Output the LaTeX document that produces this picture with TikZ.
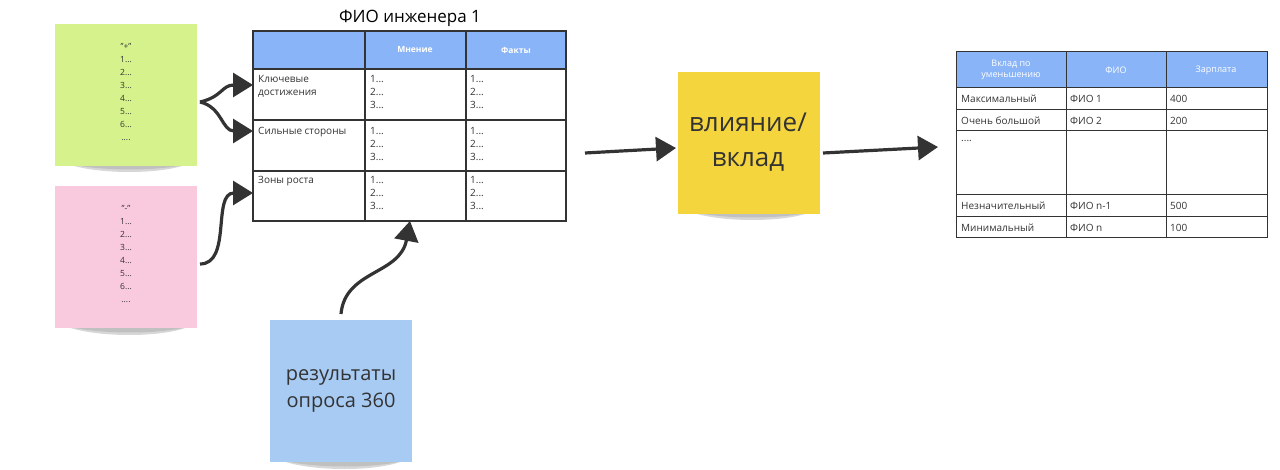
\documentclass[tikz,border=0pt]{standalone}
\usepackage{fontspec}
\setmainfont{Open Sans}
\usetikzlibrary{arrows.meta}
\definecolor{hdr}{HTML}{8AB4F8}
\definecolor{grn}{HTML}{D6F28C}
\definecolor{pnk}{HTML}{F9CADD}
\definecolor{ylw}{HTML}{F5D53E}
\definecolor{blu}{HTML}{A8CBF4}
\definecolor{ink}{HTML}{333333}
\begin{document}
\begin{tikzpicture}[x=1pt,y=-1pt,
  sticky/.style={draw=none,minimum width=142pt,minimum height=142pt,inner sep=0pt,anchor=north west},
  cell/.style={font=\fontsize{10}{13}\selectfont,anchor=north west,inner sep=0pt,align=left,text=ink},
  hcell/.style={font=\bfseries\fontsize{8.5}{11}\selectfont,text=white,align=center},
  grid/.style={draw=ink,line width=1.2pt},
  arr/.style={draw=ink,line width=3.2pt,-{Triangle[length=20pt,width=24pt]}},
  list/.style={font=\fontsize{8.5}{13}\selectfont,align=center,text=ink}]
\useasboundingbox (0,0) rectangle (1280,470);
% shadows
\foreach \x/\y in {55/165,55/328,678/213,270/462}{
  \fill[black!45,opacity=0.35] (\x+10,\y-2) .. controls (\x+40,\y+10) and (\x+110,\y+10) .. (\x+135,\y-2) -- cycle;
  \fill[black!45,opacity=0.3] (\x+20,\y) .. controls (\x+50,\y+6) and (\x+100,\y+6) .. (\x+128,\y) -- cycle;}
% stickies
\node[sticky,fill=grn] (g) at (55,24) {};
\node[sticky,fill=pnk] (p) at (55,186) {};
\node[sticky,fill=ylw] (y) at (678,72) {};
\node[sticky,fill=blu] (b) at (270,320) {};
\node[list,anchor=north] (gt) at (126,40) {"+"\\1...\\2...\\3...\\4...\\5...\\6...\\....};
\node[list,anchor=north] (pt) at (126,202) {"-"\\1...\\2...\\3...\\4...\\5...\\6...\\....};
\node[font=\fontsize{26}{35}\selectfont,align=center,text=ink] (yt) at (748,142) {влияние/\\вклад};
\node[font=\fontsize{20}{27}\selectfont,align=center,text=ink] (bt) at (341,391) {результаты\\опроса 360};
% table 1
\node[font=\fontsize{17}{20}\selectfont,text=black] (t1title) at (410,18) {ФИО инженера 1};
\fill[hdr] (253,31) rectangle (566,69);
\draw[grid] (253,31) rectangle (566,221);
\foreach \yy in {69,120,171} \draw[grid] (253,\yy) -- (566,\yy);
\foreach \xx in {365,466} \draw[grid] (\xx,31) -- (\xx,221);
\node[hcell] (h1) at (415,50) {Мнение};
\node[hcell] (h2) at (516,50) {Факты};
\node[cell] (r1) at (258,75) {Ключевые\\достижения};
\node[cell] (r2) at (258,127) {Сильные стороны};
\node[cell] (r3) at (258,176) {Зоны роста};
\foreach \yy/\n in {75/a,127/b,176/c}{
  \node[cell] (m\n) at (370,\yy) {1...\\2...\\3...};
  \node[cell] (f\n) at (470,\yy) {1...\\2...\\3...};}
\coordinate (k1) at (253,85);
\coordinate (k2) at (253,131);
\coordinate (k3) at (253,193);
\coordinate (k4) at (410,221);
% table 2
\fill[hdr] (956,52) rectangle (1267,88);
\draw[grid,line width=1pt] (956,52) rectangle (1267,238);
\foreach \yy in {88,110,131,195,217} \draw[grid,line width=1pt] (956,\yy) -- (1267,\yy);
\foreach \xx in {1066,1166} \draw[grid,line width=1pt] (\xx,52) -- (\xx,238);
\begin{scope}[hcell/.append style={font=\fontsize{9}{11}\selectfont}]
\node[hcell] (s1) at (1011,70) {Вклад по\\уменьшению};
\node[hcell] (s2) at (1116,70) {ФИО};
\node[hcell] (s3) at (1216,70) {Зарплата};
\end{scope}
\foreach \yy/\a/\b/\c/\n in {99/Максимальный/ФИО 1/400/1,120.5/Очень большой/ФИО 2/200/2,206/Незначительный/ФИО n-1/500/3,227.5/Минимальный/ФИО n/100/4}{
  \node[cell,anchor=west] (ra\n) at (961,\yy) {\a};
  \node[cell,anchor=west] (rb\n) at (1070,\yy) {\b};
  \node[cell,anchor=west] (rc\n) at (1170,\yy) {\c};}
\node[cell,anchor=west] (rd) at (961,141) {....};
% arrows
\coordinate (s0) at (200,102);
\coordinate (s5) at (200,264);
\coordinate (s6) at (341,314);
\draw[arr] (s0) .. controls (222,97) and (222,85) .. (k1);
\draw[arr] (s0) .. controls (222,107) and (222,131) .. (k2);
\draw[arr] (s5) .. controls (232,264) and (212,193) .. (k3);
\draw[arr] (s6) .. controls (345,270) and (400,275) .. (k4);
\coordinate (a1) at (585,153);
\coordinate (a0) at (676,148);
\draw[arr] (a1) -- (a0);
\coordinate (a2) at (938,147);
\coordinate (a3) at (823,153);
\draw[arr] (a3) -- (a2);
\end{tikzpicture}
\end{document}
